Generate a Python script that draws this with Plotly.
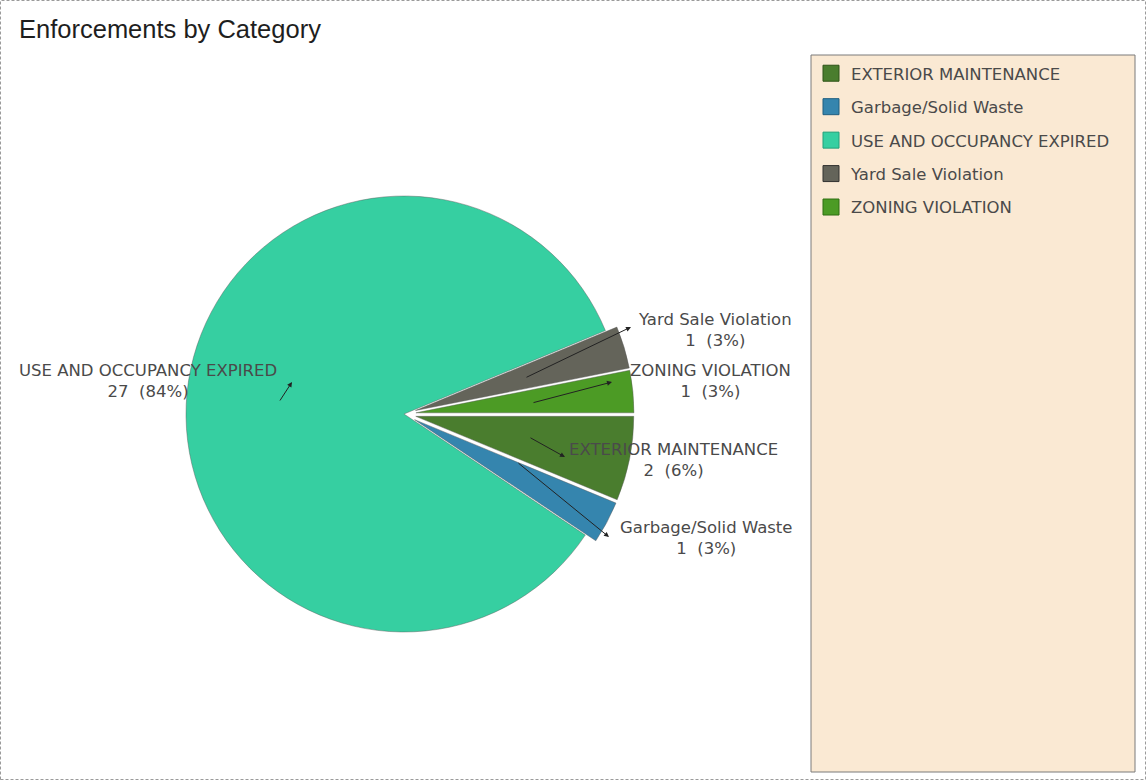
import plotly.graph_objects as go

# ---- data ----
categories = ["EXTERIOR MAINTENANCE", "Garbage/Solid Waste", "USE AND OCCUPANCY EXPIRED",
              "Yard Sale Violation", "ZONING VIOLATION"]
counts = [2, 1, 27, 1, 1]

# ---- styles ----
colors = ["#4A7D2E", "#3585AE", "#36CFA1", "#64645A", "#4C9B25"]
edge_colors = ["#2E5418", "#1F5E80", "#22A07A", "#333330", "#2F6E12"]
W, H = 1146, 780
FONT = "DejaVu Sans"

total = sum(counts)
biggest = max(counts)
pull = [0.0 if c == biggest else 0.055 for c in counts]

# pie geometry (pixels)
cx, cy, r = 404, 414, 218
half = r * (1 + max(pull))

fig = go.Figure()
fig.add_trace(go.Pie(
    labels=categories, values=counts, sort=False, direction="clockwise", rotation=90,
    pull=pull, textinfo="none", hoverinfo="label+value+percent",
    marker=dict(colors=colors, line=dict(color="rgba(90,90,90,0.55)", width=0.8)),
    domain=dict(x=[(cx - half) / W, (cx + half) / W],
                y=[(H - cy - half) / H, (H - cy + half) / H]),
    showlegend=False,
))

# legend proxies (one group per category so spacing can be set)
for name, col, ec in zip(categories, colors, edge_colors):
    fig.add_trace(go.Scatter(
        x=[None], y=[None], mode="markers", name=name, legendgroup=name,
        marker=dict(symbol="square", size=16, color=col, line=dict(color=ec, width=1)),
        hoverinfo="skip",
    ))

# label annotations: text centre (px) and arrow head / tail (px)
label_pos = {
    "USE AND OCCUPANCY EXPIRED": (148, 381),
    "Yard Sale Violation": (715, 330),
    "ZONING VIOLATION": (710, 381),
    "EXTERIOR MAINTENANCE": (673, 460),
    "Garbage/Solid Waste": (706, 538),
}
arrows = {
    "USE AND OCCUPANCY EXPIRED": ((292, 382), (279, 402)),
    "Yard Sale Violation": ((631, 327), (525, 378)),
    "ZONING VIOLATION": ((612, 382), (532, 403)),
    "EXTERIOR MAINTENANCE": ((565, 457), (529, 437)),
    "Garbage/Solid Waste": ((609, 537), (517, 462)),
}
annotations = []
for name, c in zip(categories, counts):
    (hx, hy), (tx, ty) = arrows[name]
    annotations.append(dict(
        x=hx / W, y=1 - hy / H, xref="paper", yref="paper", text="",
        showarrow=True, ax=tx - hx, ay=ty - hy, arrowhead=2, arrowsize=1,
        arrowwidth=1, arrowcolor="#222",
    ))
for name, c in zip(categories, counts):
    lx, ly = label_pos[name]
    pct = round(100 * c / total)
    annotations.append(dict(
        x=lx / W, y=1 - ly / H, xref="paper", yref="paper",
        text=f"{name}<br>{c}  ({pct}%)", showarrow=False, align="center",
        xanchor="center", yanchor="middle",
        font=dict(family=FONT, size=16.5, color="#4a4a4a"),
    ))

shapes = [
    # outer dashed border
    dict(type="rect", xref="paper", yref="paper", x0=0.5 / W, x1=1 - 0.5 / W,
         y0=0.5 / H, y1=1 - 0.5 / H, line=dict(color="#9a9a9a", width=1, dash="3px,2px"),
         fillcolor="rgba(0,0,0,0)", layer="below"),
    # legend panel
    dict(type="rect", xref="paper", yref="paper", x0=811 / W, x1=1135 / W,
         y0=1 - 772 / H, y1=1 - 55 / H, line=dict(color="#7a7a7a", width=1),
         fillcolor="#FAE9D3", layer="below"),
]

fig.update_layout(
    width=W, height=H, margin=dict(l=0, r=0, t=0, b=0),
    paper_bgcolor="white", plot_bgcolor="white",
    title=dict(text="Enforcements by Category", x=19 / W, xanchor="left",
               y=1 - 29 / H, yanchor="middle",
               font=dict(family="Liberation Sans, Arial", size=25.5, color="#1e1e1e")),
    xaxis=dict(visible=False), yaxis=dict(visible=False),
    showlegend=True,
    legend=dict(x=811 / W, xanchor="left", y=1 - 56 / H, yanchor="top",
                bgcolor="rgba(0,0,0,0)", borderwidth=0, tracegroupgap=9,
                font=dict(family=FONT, size=16.5, color="#4a4a4a"),
                itemclick=False, itemdoubleclick=False),
    annotations=annotations, shapes=shapes,
)

fig.write_html("out.html")
